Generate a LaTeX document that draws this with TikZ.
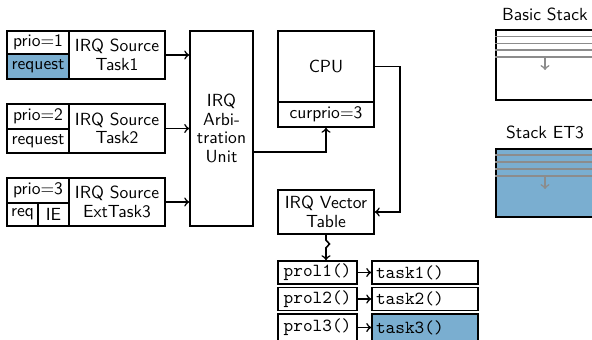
\documentclass[tikz,border=0pt]{standalone}
\usetikzlibrary{calc,decorations.pathmorphing}
\definecolor{stackblue}{RGB}{122,174,208}
\definecolor{linegray}{RGB}{140,140,140}
\begin{document}
\begin{tikzpicture}[x=0.57pt,y=-0.57pt,
  box/.style={draw, line width=1pt, inner sep=0pt, align=center,
    font=\sffamily\fontsize{10}{10.6}\selectfont},
  sz/.style args={#1/#2}{minimum width=#1*0.57pt, minimum height=#2*0.57pt},
  ttbox/.style={box, font=\ttfamily\fontsize{10.5}{12}\selectfont},
  taskbox/.style={ttbox, text width=98*0.57pt, align=left},
  conn/.style={line width=0.9pt, ->},
  gline/.style={draw=linegray, line width=0.9pt},
  lbl/.style={font=\sffamily\fontsize{10}{12}\selectfont}]
\clip (0,0) rectangle (592,339);
% IRQ sources
\node[box, sz=62/23] (p1) at (38,42.5) {prio=1};
\node[box, sz=62/25, fill=stackblue] (r1) at (38,66.5) {request};
\node[box, sz=96/48] (s1) at (117,55) {IRQ Source\\Task1};
\node[box, sz=62/25] (p2) at (38,116.5) {prio=2};
\node[box, sz=62/24] (r2) at (38,141) {request};
\node[box, sz=96/49] (s2) at (117,128.5) {IRQ Source\\Task2};
\node[box, sz=62/25] (p3) at (38,190.5) {prio=3};
\node[box, sz=31/23] (r3) at (22.5,214.5) {req};
\node[box, sz=31/23] (ie3) at (53.5,214.5) {IE};
\node[box, sz=96/48] (s3) at (117,202) {IRQ Source\\ExtTask3};
% arbitration
\node[box, sz=63/195] (arb) at (221.5,128.5) {IRQ\\Arbi-\\tration\\Unit};
% CPU
\node[box, sz=96/71] (cpu) at (326,66.5) {CPU};
\node[box, sz=96/25] (cur) at (326,114.5) {curprio=3};
% vector table
\node[box, sz=96/44] (vec) at (326,212) {IRQ Vector\\Table};
% prologues and tasks
\node[ttbox, sz=79/23] (pr1) at (317.5,272.5) {prol1()};
\node[ttbox, sz=79/23] (pr2) at (317.5,299) {prol2()};
\node[ttbox, sz=79/27] (pr3) at (317.5,327.5) {prol3()};
\node[taskbox, sz=106/23] (t1) at (425,272.5) {task1()};
\node[taskbox, sz=106/23] (t2) at (425,299) {task2()};
\node[taskbox, sz=106/27, fill=stackblue] (t3) at (425,327.5) {task3()};
% connectors
\draw[conn] (s1.east) -- (s1.east -| arb.west);
\draw[conn] (s2.east) -- (s2.east -| arb.west);
\draw[conn] (s3.east) -- (s3.east -| arb.west);
\draw[conn] ([yshift=-13.4pt]arb.east) -| (cur.south);
\draw[conn] (cpu.east) -- ++(25,0) |- (vec.east);
\draw[conn, decorate, decoration={snake, amplitude=2pt, segment length=7pt, pre length=3pt, post length=4pt}]
  (vec.south) -- (vec.south |- pr1.north);
\draw[conn] (pr1.east) -- (t1.west);
\draw[conn] (pr2.east) -- (t2.west);
\draw[conn] (pr3.east) -- (t3.west);
% stacks
\node[lbl] (bslbl) at (545,14) {Basic Stack};
\node[box, sz=100/70] (bs) at (546,65) {};
\foreach \yy in {36.5,43.5,50,57} \draw[gline] (bs.west |- 0,\yy) -- (bs.east |- 0,\yy);
\draw[gline, ->] (545,57) -- (545,70);
\node[lbl] (etlbl) at (545,132) {Stack ET3};
\node[box, sz=100/68, fill=stackblue] (et) at (546,183) {};
\foreach \yy in {155,162,169,176} \draw[gline] (et.west |- 0,\yy) -- (et.east |- 0,\yy);
\draw[gline, ->] (545,176) -- (545,189);
\end{tikzpicture}
\end{document}
